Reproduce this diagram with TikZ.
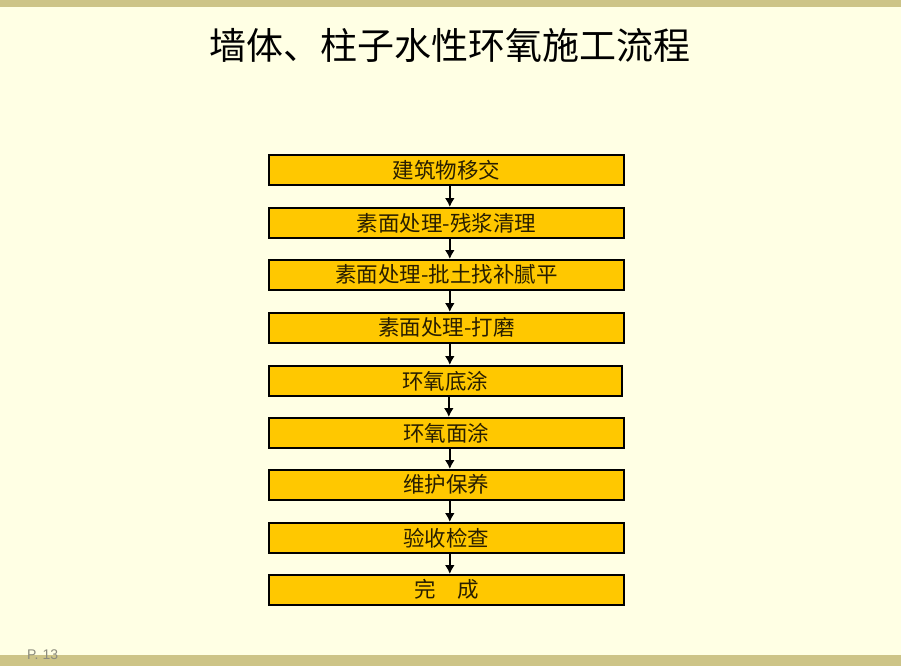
\documentclass[tikz,border=0pt]{standalone}
\usepackage{fontspec}
\usetikzlibrary{arrows.meta}
\newfontfamily\cjk{Noto Sans CJK SC}
\setsansfont{Liberation Sans}
\definecolor{bg}{RGB}{255,255,228}
\definecolor{bar}{RGB}{205,196,135}
\definecolor{gold}{RGB}{255,200,0}
\definecolor{txt}{RGB}{40,30,0}
\definecolor{pg}{RGB}{140,140,125}
\begin{document}
\begin{tikzpicture}[x=1pt,y=-1pt,
  stepbox/.style={draw=black,line width=1.6pt,fill=gold,minimum width=355pt,minimum height=30pt,inner sep=0pt,font=\cjk\fontsize{21.5}{23}\selectfont,text=txt,anchor=north west},
  flow/.style={-{Latex[length=9pt,width=10pt]},line width=2.2pt,draw=black}]
\fill[bg] (0,0) rectangle (901,666);
\useasboundingbox (0,0) rectangle (901,666);
\fill[bar] (0,0) rectangle (901,7);
\fill[bar] (0,655) rectangle (901,666);
\node (title) at (450,45) {\cjk\fontsize{37}{42}\selectfont 墙体、柱子水性环氧施工流程};
\node[stepbox] (b1) at (268,154) {建筑物移交};
\node[stepbox] (b2) at (268,207) {素面处理-残浆清理};
\node[stepbox] (b3) at (268,259) {素面处理-批土找补腻平};
\node[stepbox] (b4) at (268,312) {素面处理-打磨};
\node[stepbox,minimum width=353pt] (b5) at (268,365) {环氧底涂};
\node[stepbox] (b6) at (268,417) {环氧面涂};
\node[stepbox] (b7) at (268,469) {维护保养};
\node[stepbox] (b8) at (268,522) {验收检查};
\node[stepbox] (b9) at (268,574) {完\hspace{1em}成};
\foreach \a/\b in {b1/b2,b2/b3,b3/b4,b4/b5,b5/b6,b6/b7,b7/b8,b8/b9}
  \draw[flow] ([xshift=3.5pt]\a.south) -- ([xshift=3.5pt]\a.south |- \b.north);
\node[font=\sffamily\fontsize{14}{15}\selectfont,text=pg,anchor=base west,inner sep=0pt] (pnum) at (27,659) {P. 13};
\end{tikzpicture}
\end{document}
